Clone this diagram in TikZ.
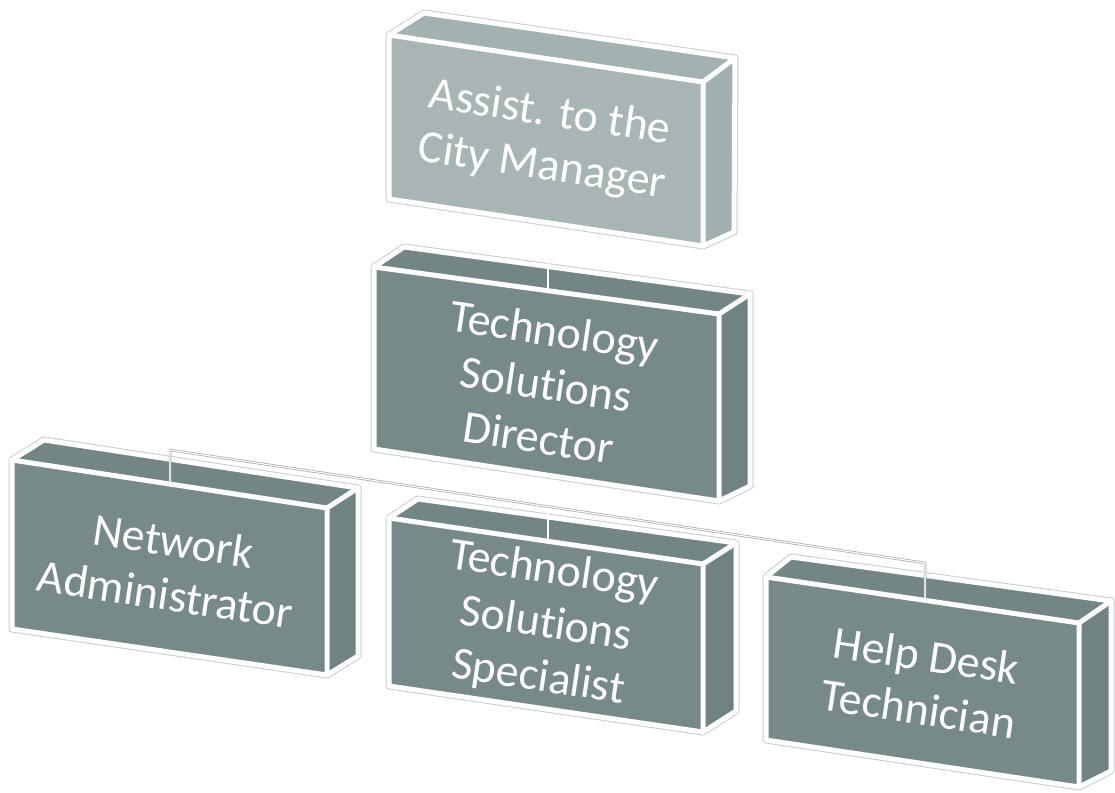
\documentclass[tikz,border=0pt]{standalone}
\usepackage{fontspec}
\setmainfont{Carlito}[RawFeature=-liga]
\usetikzlibrary{calc}
\definecolor{lightface}{HTML}{A9B5B5}
\definecolor{lighttop}{HTML}{A4B1B1}
\definecolor{lightside}{HTML}{A2AFAF}
\definecolor{darkface}{HTML}{788989}
\definecolor{darktop}{HTML}{748585}
\definecolor{darkside}{HTML}{718282}
\definecolor{rimgray}{HTML}{C9CECE}
\definecolor{linkgray}{HTML}{A0A8A8}
\tikzset{
  boxoutline/.style={draw=rimgray, line width=7pt, line join=round},
  boxedge/.style={draw=white, line width=5pt, line join=round, line cap=round},
  lbl/.style={text=white, align=center, rotate=-8.5, inner sep=0pt,
    font=\fontsize{46}{54}\selectfont},
  link/.style={draw=linkgray, line width=0.7pt, double=white, double distance=1.1pt}
}
\newcommand{\drawbox}[4]{%
  \draw[boxoutline] (#1-ftl) -- (#1-btl) -- (#1-btr) -- (#1-bbr) -- (#1-fbr) -- (#1-fbl) -- cycle;
  \fill[#3] (#1-ftl) -- (#1-btl) -- (#1-btr) -- (#1-ftr) -- cycle;
  \fill[#4] (#1-ftr) -- (#1-btr) -- (#1-bbr) -- (#1-fbr) -- cycle;
  \fill[#2] (#1-ftl) -- (#1-ftr) -- (#1-fbr) -- (#1-fbl) -- cycle;
  \draw[boxedge] (#1-ftl) -- (#1-btl) -- (#1-btr) -- (#1-bbr) -- (#1-fbr) -- (#1-fbl) -- cycle;
  \draw[boxedge] (#1-ftl) -- (#1-ftr) -- (#1-fbr) (#1-ftr) -- (#1-btr);
}
\begin{document}
\begin{tikzpicture}[x=1pt,y=-1pt]
\useasboundingbox (0,0) rectangle (1115,792);
% box A
\coordinate (a-ftl) at (389,35);  \coordinate (a-ftr) at (703,82);
\coordinate (a-fbr) at (703,246); \coordinate (a-fbl) at (389,199);
\coordinate (a-btl) at (424,13);  \coordinate (a-btr) at (735,58);
\coordinate (a-bbr) at (734,232);
% box B
\coordinate (b-ftl) at (374,267); \coordinate (b-ftr) at (719,314);
\coordinate (b-fbr) at (719,501); \coordinate (b-fbl) at (374,449);
\coordinate (b-btl) at (404,247); \coordinate (b-btr) at (750,294);
\coordinate (b-bbr) at (750,486);
% box C
\coordinate (c-ftl) at (12,460);  \coordinate (c-ftr) at (327,508);
\coordinate (c-fbr) at (327,675); \coordinate (c-fbl) at (12,629);
\coordinate (c-btl) at (44,440);  \coordinate (c-btr) at (358,488);
\coordinate (c-bbr) at (358,656);
% box D
\coordinate (d-ftl) at (389,518); \coordinate (d-ftr) at (703,564);
\coordinate (d-fbr) at (703,732); \coordinate (d-fbl) at (389,686);
\coordinate (d-btl) at (418,499); \coordinate (d-btr) at (736,543);
\coordinate (d-bbr) at (736,711);
% box E
\coordinate (e-ftl) at (766,577); \coordinate (e-ftr) at (1079,623);
\coordinate (e-fbr) at (1079,787); \coordinate (e-fbl) at (766,740);
\coordinate (e-btl) at (791,557); \coordinate (e-btr) at (1111,601);
\coordinate (e-bbr) at (1111,771);

\drawbox{a}{lightface}{lighttop}{lightside}
\drawbox{b}{darkface}{darktop}{darkside}
\drawbox{c}{darkface}{darktop}{darkside}
\drawbox{d}{darkface}{darktop}{darkside}
\drawbox{e}{darkface}{darktop}{darkside}

% connector points
\coordinate (a-bot) at (548,227);
\coordinate (b-top) at (548,288);
\coordinate (b-bot) at (548,480);
\coordinate (d-top) at (548,539);
\coordinate (c-top) at (170,482);
\coordinate (e-top) at (925,598);
\coordinate (c-corner) at (170,450);
\coordinate (e-corner) at (925,563);

\draw[link] (a-bot) -- (b-top);
\draw[link] (b-bot) -- (d-top);
\draw[link] (c-top) -- (c-corner) -- (e-corner) -- (e-top);

\node[lbl] (a) at ($(a-ftl)!0.5!(a-fbr)$) {Assist. to the\\City Manager};
\node[lbl] (b) at ($(b-ftl)!0.5!(b-fbr)$) {Technology\\Solutions\\Director};
\node[lbl] (c) at ($(c-ftl)!0.5!(c-fbr)$) {Network\\Administrator};
\node[lbl] (d) at ($(d-ftl)!0.5!(d-fbr)$) {Technology\\Solutions\\Specialist};
\node[lbl] (e) at ($(e-ftl)!0.5!(e-fbr)$) {Help Desk\\Technician};
\end{tikzpicture}
\end{document}
